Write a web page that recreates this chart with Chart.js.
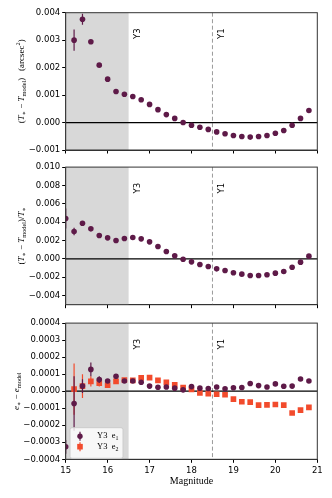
<!DOCTYPE html>
<html lang="en">
<head>
<meta charset="UTF-8" />
<title>PSF residuals vs magnitude</title>
<script src="https://cdn.jsdelivr.net/npm/chart.js"></script>
<style>
  body { margin: 0; background: #fff; }
  #wrap { position: relative; width: 332px; height: 498px; }
  canvas { position: absolute; left: 0; }
</style>
</head>
<body>
<div id="wrap">
  <canvas id="c1" width="332" height="160" style="top:0"></canvas>
  <canvas id="c2" width="332" height="160" style="top:160px"></canvas>
  <canvas id="c3" width="332" height="182" style="top:316px"></canvas>
</div>
<script>
  // magnitude bins
  const mags = [15.0, 15.2, 15.4, 15.6, 15.8, 16.0, 16.2, 16.4, 16.6, 16.8,
                17.0, 17.2, 17.4, 17.6, 17.8, 18.0, 18.2, 18.4, 18.6, 18.8,
                19.0, 19.2, 19.4, 19.6, 19.8, 20.0, 20.2, 20.4, 20.6, 20.8];

  // top: T* - Tmodel (arcsec^2)
  const dT = [null, 0.00300, 0.00376, 0.00294, 0.00209, 0.00158, 0.00113, 0.00103, 0.00095, 0.00083,
              0.00066, 0.00047, 0.00029, 0.00015, 0.00000, -0.00010, -0.00017, -0.00025, -0.00034, -0.00041,
              -0.00047, -0.00051, -0.00053, -0.00051, -0.00047, -0.00039, -0.00029, -0.00010, 0.00015, 0.00044];
  const dTerr = [0, 0.00039, 0.00020, 0.00005, 0.00003, 0.00002, 0.00002, 0.00002, 0.00002, 0.00002,
                 0.00002, 0.00002, 0.00002, 0.00002, 0.00002, 0.00002, 0.00002, 0.00002, 0.00002, 0.00002,
                 0.00002, 0.00002, 0.00002, 0.00002, 0.00002, 0.00002, 0.00002, 0.00002, 0.00002, 0.00002];

  // middle: (T* - Tmodel) / T*
  const dTfrac = [0.0044, 0.00298, 0.00388, 0.00327, 0.00254, 0.00229, 0.00200, 0.00221, 0.00232, 0.00218,
                  0.00185, 0.00134, 0.00080, 0.00033, -0.00004, -0.00033, -0.00062, -0.00083, -0.00109, -0.00127,
                  -0.00152, -0.00167, -0.00181, -0.00181, -0.00174, -0.00156, -0.00138, -0.00091, -0.00036, 0.00029];
  const dTfracErr = [0.0011, 0.0004, 0.0002, 0.0001, 0.0001, 0.0001, 0.0001, 0.0001, 0.0001, 0.0001,
                     0.0001, 0.0001, 0.0001, 0.0001, 0.0001, 0.0001, 0.0001, 0.0001, 0.0001, 0.0001,
                     0.0001, 0.0001, 0.0001, 0.0001, 0.0001, 0.0001, 0.0001, 0.0001, 0.0001, 0.0001];

  // bottom: e* - emodel
  const de1 = [-0.000327, -0.000072, 0.000030, 0.000128, 0.000068, 0.000060, 0.000088, 0.000060, 0.000060, 0.000053,
               0.000030, 0.000023, 0.000025, 0.000018, 0.000008, 0.000027, 0.000018, 0.000016, 0.000025, 0.000014,
               0.000020, 0.000022, 0.000045, 0.000033, 0.000025, 0.000043, 0.000029, 0.000030, 0.000072, 0.000060];
  const de1err = [0.00004, 0.00016, 0.00004, 0.00004, 0.00002, 0.00001, 0.00001, 0.00001, 0.00001, 0.00001,
                  0.00001, 0.00001, 0.00001, 0.00001, 0.00001, 0.00001, 0.00001, 0.00001, 0.00001, 0.00001,
                  0.00001, 0.00001, 0.00001, 0.00001, 0.00001, 0.00001, 0.00001, 0.00001, 0.00001, 0.00001];
  const de2 = [null, 0.000012, 0.000030, 0.000058, 0.000047, 0.000035, 0.000058, 0.000066, 0.000064, 0.000078,
               0.000080, 0.000064, 0.000052, 0.000037, 0.000021, 0.000010, -0.000010, -0.000014, -0.000018, -0.000021,
               -0.000047, -0.000062, -0.000064, -0.000082, -0.000080, -0.000078, -0.000082, -0.000128, -0.000111, -0.000095];
  const de2err = [0, 0.00015, 0.00007, 0.00003, 0.00002, 0.00001, 0.00001, 0.00001, 0.00001, 0.00001,
                  0.00001, 0.00001, 0.00001, 0.00001, 0.00001, 0.00001, 0.00001, 0.00001, 0.00001, 0.00001,
                  0.00001, 0.00001, 0.00001, 0.00001, 0.00001, 0.00001, 0.00001, 0.00001, 0.00001, 0.00001];

  const xTicks = [15, 16, 17, 18, 19, 20, 21];
  const yTicks1 = [-0.001, 0.000, 0.001, 0.002, 0.003, 0.004];
  const yTicks2 = [-0.004, -0.002, 0.000, 0.002, 0.004, 0.006, 0.008, 0.010];
  const yTicks3 = [-0.0004, -0.0003, -0.0002, -0.0001, 0.0000, 0.0001, 0.0002, 0.0003, 0.0004];

  const PURPLE = '#5e1a48';
  const ORANGE = '#f24b2c';
  const SANS = '"DejaVu Sans", sans-serif';
  const SERIF = '"Liberation Serif", "DejaVu Serif", serif';
  const LEFT = 65.7, RIGHT_PAD = 332 - 317.3;

  function fontFor(st, size) {
    const s = (st === 'b' || st === 'p') ? size * 0.7 : size;
    return (st === 'i' ? 'italic ' : '') + s + 'px ' + SERIF;
  }

  // draw text pieces (roman / italic / sub / sup) centred on cx,cy
  function drawRich(ctx, parts, cx, cy, size, rotate) {
    ctx.save();
    ctx.translate(cx, cy);
    if (rotate) ctx.rotate(-Math.PI / 2);
    let w = 0;
    parts.forEach(([t, st]) => { ctx.font = fontFor(st, size); w += ctx.measureText(t).width; });
    let x = -w / 2;
    ctx.textAlign = 'left';
    ctx.textBaseline = 'middle';
    ctx.fillStyle = '#000';
    parts.forEach(([t, st]) => {
      ctx.font = fontFor(st, size);
      const dy = st === 'b' ? size * 0.28 : st === 'p' ? -size * 0.35 : 0;
      ctx.fillText(t, x, dy);
      x += ctx.measureText(t).width;
    });
    ctx.restore();
  }

  const decor = {
    id: 'decor',
    beforeDatasetsDraw(chart, args, opts) {
      const { ctx, chartArea: a, scales: { x, y } } = chart;
      ctx.save();
      // faint-star region
      ctx.fillStyle = '#d8d8d8';
      ctx.fillRect(x.getPixelForValue(15), a.top, x.getPixelForValue(16.5) - x.getPixelForValue(15), a.bottom - a.top);
      // Y1 limit
      const x1 = x.getPixelForValue(18.5);
      ctx.strokeStyle = '#9a9a9a';
      ctx.lineWidth = 1;
      ctx.setLineDash([4, 2.5]);
      ctx.beginPath(); ctx.moveTo(x1, a.top); ctx.lineTo(x1, a.bottom); ctx.stroke();
      ctx.setLineDash([]);
      // zero line
      const y0 = y.getPixelForValue(0);
      ctx.strokeStyle = '#000';
      ctx.lineWidth = 1.3;
      ctx.beginPath(); ctx.moveTo(a.left, y0); ctx.lineTo(a.right, y0); ctx.stroke();
      // cut labels
      ctx.font = '8.5px ' + SANS;
      ctx.fillStyle = '#000';
      ctx.textAlign = 'center';
      ctx.textBaseline = 'middle';
      [['Y3', 16.5], ['Y1', 18.5]].forEach(([t, m]) => {
        ctx.save();
        ctx.translate(x.getPixelForValue(m) + 9, a.top + 21);
        ctx.rotate(-Math.PI / 2);
        ctx.fillText(t, 0, 0);
        ctx.restore();
      });
      ctx.restore();
    },
    beforeDatasetDraw(chart, args) {
      const ds = chart.data.datasets[args.index];
      if (!ds.err) return;
      const { ctx, chartArea: a, scales: { x, y } } = chart;
      ctx.save();
      ctx.beginPath(); ctx.rect(a.left, a.top, a.right - a.left, a.bottom - a.top); ctx.clip();
      ctx.strokeStyle = ds.borderColor;
      ctx.lineWidth = 1.2;
      ds.data.forEach((p, i) => {
        if (p.y === null || !ds.err[i]) return;
        const px = x.getPixelForValue(p.x);
        ctx.beginPath();
        ctx.moveTo(px, y.getPixelForValue(p.y - ds.err[i]));
        ctx.lineTo(px, y.getPixelForValue(p.y + ds.err[i]));
        ctx.stroke();
      });
      ctx.restore();
    },
    afterDraw(chart, args, opts) {
      const { ctx, chartArea: a } = chart;
      ctx.save();
      ctx.strokeStyle = '#333';
      ctx.lineWidth = 1;
      ctx.strokeRect(a.left, a.top, a.right - a.left, a.bottom - a.top);
      drawRich(ctx, opts.title, opts.titleX, (a.top + a.bottom) / 2, 9, true);
      if (opts.xTitle) drawRich(ctx, [[opts.xTitle, 'r']], (a.left + a.right) / 2, a.bottom + 22, 10, false);
      if (opts.legend) {
        const bx = a.left + 4.3, by = a.bottom - 31.6, bw = 53, bh = 30.6;
        ctx.fillStyle = 'rgba(255,255,255,0.8)';
        ctx.strokeStyle = '#cccccc';
        ctx.beginPath(); ctx.roundRect(bx, by, bw, bh, 2); ctx.fill(); ctx.stroke();
        opts.legend.forEach((it, k) => {
          const my = by + 8.5 + k * 10.5, mx = bx + 10;
          ctx.strokeStyle = it.color; ctx.fillStyle = it.color; ctx.lineWidth = 1.2;
          ctx.beginPath(); ctx.moveTo(mx, my - 4.5); ctx.lineTo(mx, my + 4.5); ctx.stroke();
          ctx.beginPath();
          if (it.square) ctx.rect(mx - 2.8, my - 2.8, 5.6, 5.6); else ctx.arc(mx, my, 2.7, 0, Math.PI * 2);
          ctx.fill();
          ctx.save();
          ctx.font = '8.5px ' + SERIF; ctx.fillStyle = '#000'; ctx.textBaseline = 'middle';
          ctx.fillText('Y3', bx + 27, my);
          ctx.restore();
          drawRich(ctx, [['e', 'r'], [it.sub, 'b']], bx + 45, my, 8.5, false);
        });
      }
      ctx.restore();
    }
  };

  function fmt(digits) {
    return v => (v < -1e-12 ? '\u2212' : '') + Math.abs(v).toFixed(digits);
  }

  function series(vals, errs, color, square) {
    return {
      data: mags.map((m, i) => ({ x: m, y: vals[i] })),
      err: errs,
      backgroundColor: color,
      borderColor: color,
      borderWidth: 0,
      pointStyle: square ? 'rect' : 'circle',
      pointRadius: square ? 4 : 2.8,
      clip: 0
    };
  }

  function panel(id, top, bottom, yMin, yMax, yTicks, digits, datasets, deco, showX) {
    const cv = document.getElementById(id);
    const tickFont = { family: SANS, size: 8.5 };
    return new Chart(cv, {
      type: 'scatter',
      data: { datasets },
      options: {
        responsive: false,
        animation: false,
        events: [],
        layout: { padding: { top: top, right: RIGHT_PAD, left: 0, bottom: 0 } },
        plugins: { legend: { display: false }, tooltip: { enabled: false }, decor: deco },
        scales: {
          x: {
            type: 'linear', min: 15, max: 21,
            afterBuildTicks: s => { s.ticks = xTicks.map(v => ({ value: v })); },
            afterFit: s => { s.height = cv.height - bottom; },
            grid: { drawOnChartArea: false, tickLength: 3.5, color: '#000' },
            border: { color: '#333' },
            ticks: { display: showX, color: '#000', font: tickFont, padding: 3, maxRotation: 0, callback: v => String(v) }
          },
          y: {
            type: 'linear', min: yMin, max: yMax,
            afterBuildTicks: s => { s.ticks = yTicks.map(v => ({ value: v })); },
            afterFit: s => { s.width = LEFT; },
            grid: { drawOnChartArea: false, tickLength: 3.5, color: '#000' },
            border: { color: '#333' },
            ticks: { color: '#000', font: tickFont, padding: 2, callback: fmt(digits) }
          }
        }
      },
      plugins: [decor]
    });
  }

  panel('c1', 12.7, 150, -0.001, 0.004, yTicks1, 3,
    [series(dT, dTerr, PURPLE, false)],
    { titleX: 22, title: [['(', 'r'], ['T', 'i'], ['\u2217', 'b'], [' \u2212 ', 'r'], ['T', 'i'], ['model', 'b'], [')', 'r'], ['   (arcsec', 'r'], ['2', 'p'], [')', 'r']] },
    false);

  panel('c2', 6.7, 144.7, -0.005, 0.010, yTicks2, 3,
    [series(dTfrac, dTfracErr, PURPLE, false)],
    { titleX: 21.5, title: [['(', 'r'], ['T', 'i'], ['\u2217', 'b'], [' \u2212 ', 'r'], ['T', 'i'], ['model', 'b'], [')/', 'r'], ['T', 'i'], ['\u2217', 'b']] },
    false);

  panel('c3', 6.3, 143.3, -0.0004, 0.0004, yTicks3, 4,
    [series(de1, de1err, PURPLE, false), series(de2, de2err, ORANGE, true)],
    { titleX: 16.5, xTitle: 'Magnitude',
      title: [['e', 'i'], ['\u2217', 'b'], [' \u2212 ', 'r'], ['e', 'i'], ['model', 'b']],
      legend: [{ color: PURPLE, sub: '1' }, { color: ORANGE, sub: '2', square: true }] },
    true);
</script>
</body>
</html>
